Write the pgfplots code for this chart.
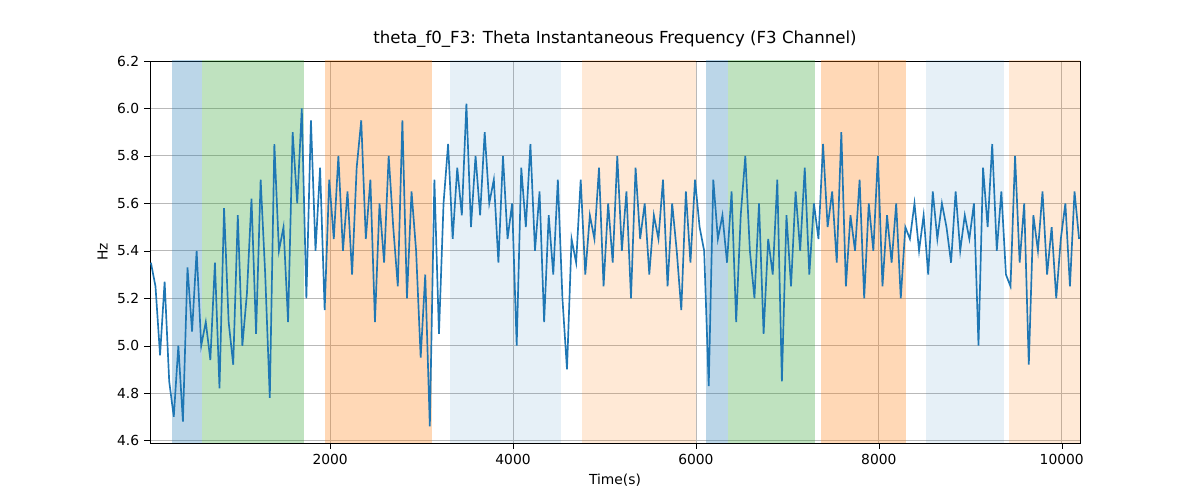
\documentclass[border=0pt]{standalone}
\usepackage{pgfplots}
\pgfplotsset{compat=1.18}
\usepackage{pgfplotstable}
\usepackage{fontspec}
\setmainfont{DejaVu Sans}
\definecolor{tb}{HTML}{1F77B4}
\definecolor{tg}{HTML}{2CA02C}
\definecolor{to}{HTML}{FF7F0E}
\pgfplotstableread[row sep=\\]{
y\\
5.35\\ 5.25\\ 4.96\\ 5.27\\ 4.85\\ 4.70\\ 5.00\\ 4.68\\ 5.33\\ 5.06\\ 5.40\\ 5.00\\
5.10\\ 4.94\\ 5.35\\ 4.82\\ 5.58\\ 5.10\\ 4.92\\ 5.55\\ 5.00\\ 5.22\\ 5.62\\ 5.05\\
5.70\\ 5.30\\ 4.78\\ 5.85\\ 5.40\\ 5.50\\ 5.10\\ 5.90\\ 5.60\\ 6.00\\ 5.20\\ 5.95\\
5.40\\ 5.75\\ 5.15\\ 5.70\\ 5.45\\ 5.80\\ 5.40\\ 5.65\\ 5.30\\ 5.75\\ 5.95\\ 5.45\\
5.70\\ 5.10\\ 5.60\\ 5.35\\ 5.80\\ 5.50\\ 5.25\\ 5.95\\ 5.20\\ 5.65\\ 5.40\\ 4.95\\
5.30\\ 4.66\\ 5.70\\ 5.05\\ 5.60\\ 5.85\\ 5.45\\ 5.75\\ 5.55\\ 6.02\\ 5.50\\ 5.80\\
5.55\\ 5.90\\ 5.60\\ 5.70\\ 5.35\\ 5.80\\ 5.45\\ 5.60\\ 5.00\\ 5.75\\ 5.50\\ 5.85\\
5.40\\ 5.65\\ 5.10\\ 5.55\\ 5.30\\ 5.70\\ 5.20\\ 4.90\\ 5.45\\ 5.35\\ 5.70\\ 5.30\\
5.55\\ 5.45\\ 5.75\\ 5.25\\ 5.60\\ 5.35\\ 5.80\\ 5.40\\ 5.65\\ 5.20\\ 5.75\\ 5.45\\
5.60\\ 5.30\\ 5.55\\ 5.45\\ 5.70\\ 5.25\\ 5.60\\ 5.40\\ 5.15\\ 5.65\\ 5.35\\ 5.70\\
5.50\\ 5.40\\ 4.83\\ 5.70\\ 5.45\\ 5.55\\ 5.35\\ 5.65\\ 5.10\\ 5.55\\ 5.80\\ 5.40\\
5.20\\ 5.60\\ 5.05\\ 5.45\\ 5.30\\ 5.70\\ 4.85\\ 5.55\\ 5.25\\ 5.65\\ 5.40\\ 5.75\\
5.30\\ 5.60\\ 5.45\\ 5.85\\ 5.50\\ 5.65\\ 5.35\\ 5.90\\ 5.25\\ 5.55\\ 5.40\\ 5.70\\
5.20\\ 5.60\\ 5.40\\ 5.80\\ 5.25\\ 5.55\\ 5.35\\ 5.60\\ 5.20\\ 5.50\\ 5.45\\ 5.60\\
5.40\\ 5.55\\ 5.30\\ 5.65\\ 5.45\\ 5.60\\ 5.50\\ 5.35\\ 5.65\\ 5.40\\ 5.55\\ 5.45\\
5.60\\ 5.00\\ 5.75\\ 5.50\\ 5.85\\ 5.40\\ 5.65\\ 5.30\\ 5.25\\ 5.80\\ 5.35\\ 5.60\\
4.92\\ 5.55\\ 5.40\\ 5.65\\ 5.30\\ 5.50\\ 5.20\\ 5.45\\ 5.60\\ 5.25\\ 5.65\\ 5.45\\
}\raw
\begin{document}
\begin{tikzpicture}
\fontsize{10}{12}\selectfont
\path[use as bounding box] (-1.5in,-0.57in) rectangle (10.5in,4.43in);
\begin{axis}[at={(0,0)},anchor=south west,scale only axis,width=9.3in,height=3.82in,
 xmin=30,xmax=10200,ymin=4.59,ymax=6.2,
 xtick={2000,4000,6000,8000,10000},ytick={4.6,4.8,...,6.21},
 scaled x ticks=false,
 xticklabel style={/pgf/number format/.cd,fixed,precision=0,1000 sep={}},
 yticklabel style={/pgf/number format/.cd,fixed,fixed zerofill,precision=1},
 /pgf/number format/assume math mode=true,
 xtick pos=left,ytick pos=left,
 grid=major,grid style={gray!55,line width=0.6pt},
 tick align=outside,tick style={black},
 title={theta\_f0\_F3: Theta Instantaneous Frequency (F3 Channel)},
 title style={font=\fontsize{12}{14}\selectfont},
 xlabel={Time(s)},ylabel={Hz}]
\fill[tb,opacity=0.3] (axis cs:273,4.5) rectangle (axis cs:601,6.3);
\fill[tg,opacity=0.3] (axis cs:601,4.5) rectangle (axis cs:1716,6.3);
\fill[to,opacity=0.3] (axis cs:1945,4.5) rectangle (axis cs:3115,6.3);
\fill[tb,opacity=0.11] (axis cs:3311,4.5) rectangle (axis cs:4525,6.3);
\fill[to,opacity=0.17] (axis cs:4754,4.5) rectangle (axis cs:6000,6.3);
\fill[tb,opacity=0.3] (axis cs:6109,4.5) rectangle (axis cs:6350,6.3);
\fill[tg,opacity=0.3] (axis cs:6350,4.5) rectangle (axis cs:7300,6.3);
\fill[to,opacity=0.3] (axis cs:7366,4.5) rectangle (axis cs:8295,6.3);
\fill[tb,opacity=0.11] (axis cs:8514,4.5) rectangle (axis cs:9366,6.3);
\fill[to,opacity=0.17] (axis cs:9421,4.5) rectangle (axis cs:10200,6.3);
\addplot[tb,line width=1.2pt,mark=none] table[x expr=\coordindex*50+40,y=y] {\raw};
\end{axis}
\end{tikzpicture}
\end{document}
